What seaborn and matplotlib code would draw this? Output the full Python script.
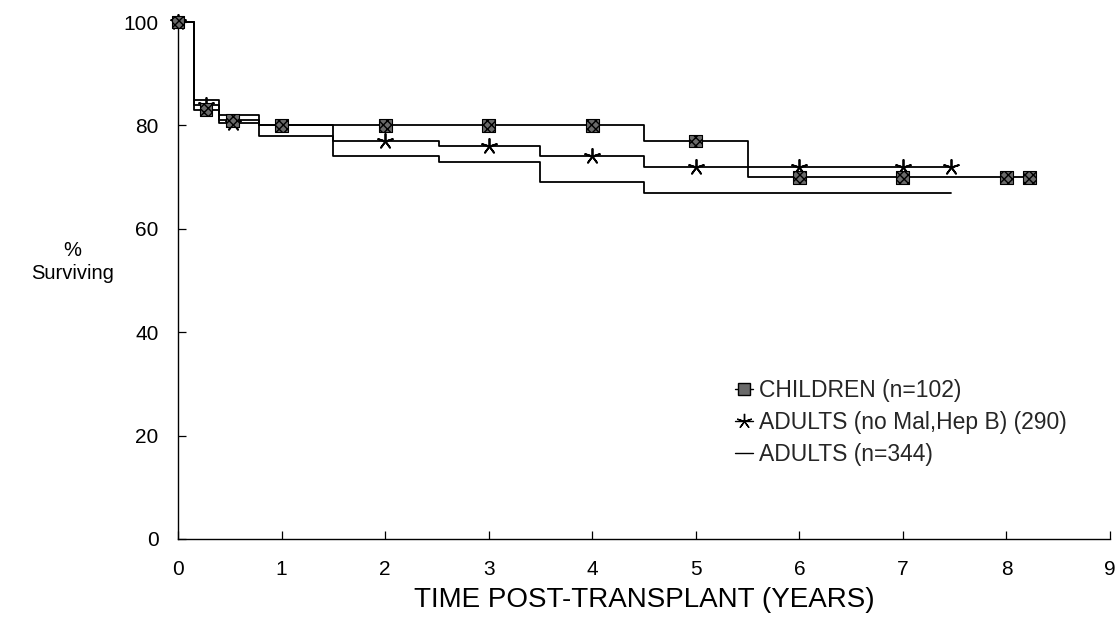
import numpy as np
import pandas as pd
import matplotlib
matplotlib.use("Agg")
import matplotlib.pyplot as plt
from matplotlib.lines import Line2D
import seaborn as sns

# ---- data ----
children_t = [0, 0.15, 0.40, 0.78, 4.5, 5.5, 8.25]
children_s = [100, 83, 81, 80, 77, 70, 70]
adults290_t = [0, 0.15, 0.40, 0.78, 1.5, 2.52, 3.5, 4.5, 7.46]
adults290_s = [100, 84, 80.5, 80, 77, 76, 74, 72, 72]
adults344_t = [0, 0.15, 0.40, 0.78, 1.5, 2.52, 3.5, 4.5, 7.46]
adults344_s = [100, 85, 82, 78, 74, 73, 69, 67, 67]

children_marks = [0, 0.27, 0.53, 1, 2, 3, 4, 5, 6, 7, 8, 8.22]
adults290_marks = [0, 0.27, 0.53, 2, 3, 4, 5, 6, 7, 7.46]

labels = ["CHILDREN (n=102)", "ADULTS (no Mal,Hep B) (290)", "ADULTS (n=344)"]
x_ticks = [0, 1, 2, 3, 4, 5, 6, 7, 8, 9]
y_ticks = [0, 20, 40, 60, 80, 100]


def step_at(t, s, m):
    t = np.asarray(t); s = np.asarray(s)
    idx = np.searchsorted(t, np.asarray(m), side="right") - 1
    return s[np.clip(idx, 0, len(s) - 1)]


sns.set_style("ticks")
plt.rcParams["font.family"] = ["Liberation Sans", "DejaVu Sans"]

W, H = 1119, 625
x0, x1, y0, y1 = 178, 1110, 539, 22
fig = plt.figure(figsize=(W / 100, H / 100), dpi=100)
ax = fig.add_axes([x0 / W, 1 - y0 / H, (x1 - x0) / W, (y0 - y1) / H])

df = pd.concat([
    pd.DataFrame({"t": adults344_t, "s": adults344_s, "g": labels[2]}),
    pd.DataFrame({"t": adults290_t, "s": adults290_s, "g": labels[1]}),
    pd.DataFrame({"t": children_t, "s": children_s, "g": labels[0]}),
])

for g in [labels[2], labels[1], labels[0]]:
    sub = df[df["g"] == g]
    sns.lineplot(data=sub, x="t", y="s", ax=ax, color="black", lw=1.3,
                 drawstyle="steps-post", estimator=None, sort=False,
                 legend=False, clip_on=False)

# star markers
m290 = pd.DataFrame({"t": adults290_marks,
                     "s": step_at(adults290_t, adults290_s, adults290_marks)})
sns.scatterplot(data=m290, x="t", y="s", ax=ax, marker=(5, 2, 0), s=120,
                color="black", linewidth=1.3, legend=False, zorder=4, clip_on=False)

# square markers
mch = pd.DataFrame({"t": children_marks,
                    "s": step_at(children_t, children_s, children_marks)})
sns.scatterplot(data=mch, x="t", y="s", ax=ax, marker="s", s=85,
                facecolor="#6a6a6a", edgecolor="black", hatch="xxxx",
                linewidth=0.8, legend=False, zorder=5, clip_on=False)

ax.set_xlim(0, 9)
ax.set_ylim(0, 100)
ax.set_xticks(x_ticks)
ax.set_yticks(y_ticks)
ax.tick_params(direction="in", length=6, width=0.9, color="black",
               labelsize=15, labelcolor="black")
ax.tick_params(axis="x", pad=15)
ax.tick_params(axis="y", pad=14)
for sp in ["top", "right"]:
    ax.spines[sp].set_visible(False)
for sp in ["left", "bottom"]:
    ax.spines[sp].set_color("black")
    ax.spines[sp].set_linewidth(1.0)

ax.set_xlabel("TIME POST-TRANSPLANT (YEARS)", fontsize=20, color="black")
ax.xaxis.set_label_coords(0.5, -0.092)
ax.set_ylabel("%\nSurviving", fontsize=14.5, rotation=0, color="black",
              ha="center", va="center", multialignment="center",
              linespacing=1.25)
ax.yaxis.set_label_coords(-0.113, 0.536)

handles = [
    Line2D([], [], color="black", lw=1.0, marker="s", markersize=8,
           markerfacecolor="#6a6a6a", markeredgecolor="black"),
    Line2D([], [], color="black", lw=1.0, marker=(5, 2, 0), markersize=11),
    Line2D([], [], color="black", lw=1.0),
]
ax.legend(handles, labels, loc="upper left", bbox_to_anchor=(0.598, 0.310),
          frameon=False, fontsize=16.5, handlelength=0.75, handletextpad=0.3,
          labelspacing=0.4, borderaxespad=0, borderpad=0)

fig.savefig("out.png", dpi=100, facecolor="white")
